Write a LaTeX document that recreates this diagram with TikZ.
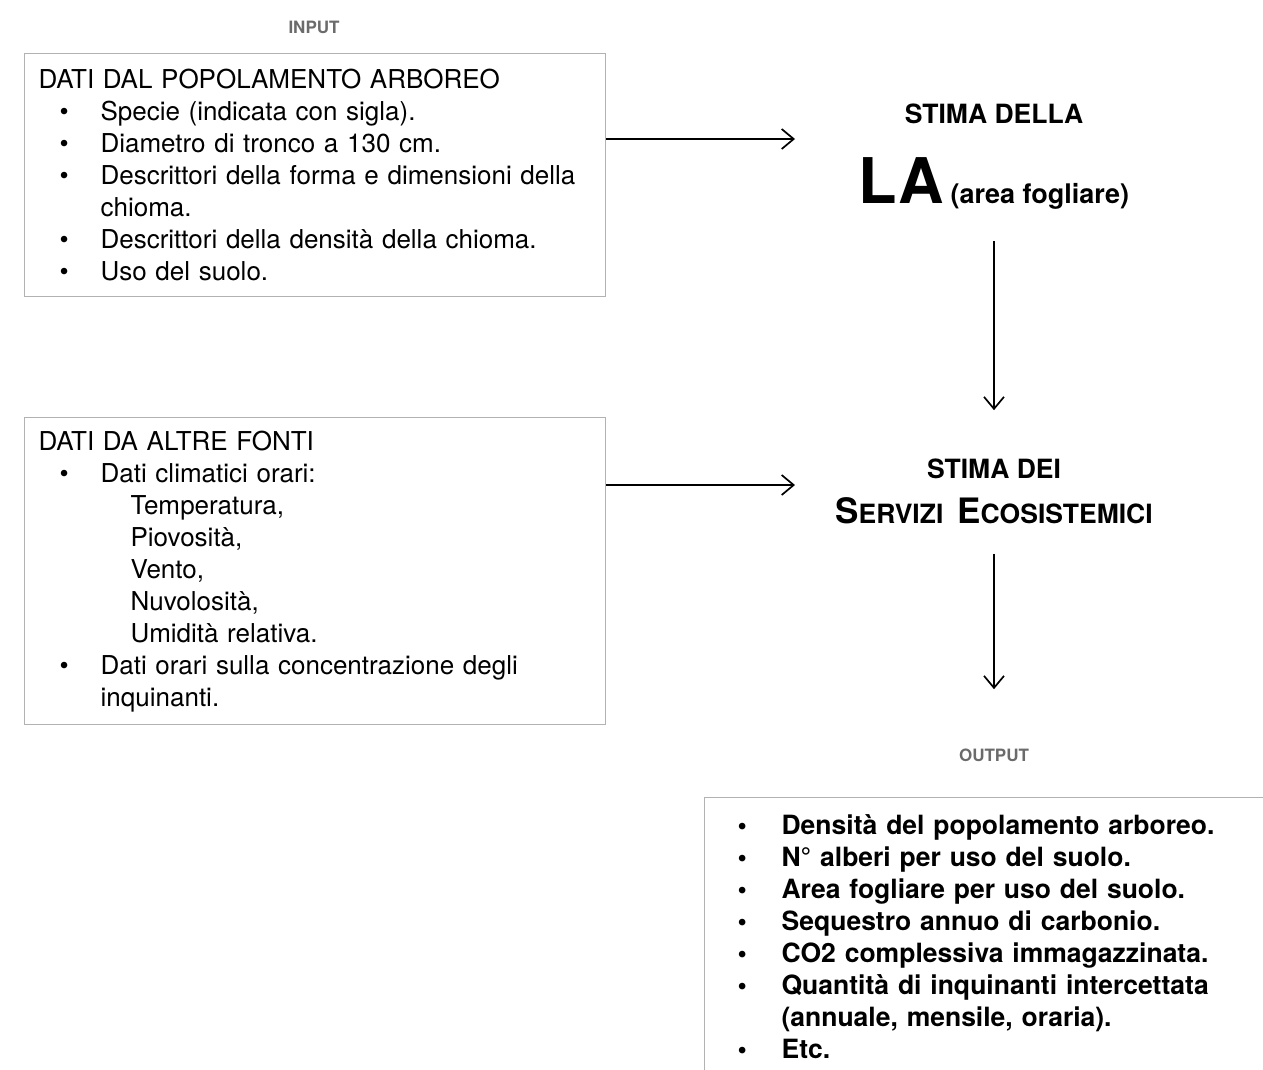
\documentclass[tikz,border=0pt]{standalone}
\usepackage{fontspec}
\setmainfont{TeX Gyre Heros}
\usetikzlibrary{arrows.meta,positioning}
\definecolor{boxgray}{gray}{0.70}
\definecolor{labelgray}{gray}{0.42}
% bullet line with hanging indent (text start given as argument)
\newcommand{\bulstart}[1]{\hangindent=#1\hangafter=1\noindent\hspace*{21pt}\makebox[\dimexpr#1-21pt\relax][l]{\textbullet}\ignorespaces}
\newcommand{\bul}[1][62pt]{\par\bulstart{#1}}
\newcommand{\subitm}{\par\noindent\hspace*{92pt}\ignorespaces}

\begin{document}
\begin{tikzpicture}[x=1pt, y=-1pt,
  databox/.style={rectangle, draw=boxgray, line width=1.2pt, text width=553pt, inner xsep=14pt, inner ysep=0pt, align=left, font={\fontsize{26}{32}\selectfont}},
  outbox/.style={rectangle, draw=boxgray, line width=1.2pt, anchor=north west, text width=560pt, inner xsep=12pt, inner ysep=8pt, text height=29pt, text depth=300pt, align=left, font={\bfseries\fontsize{26.5}{32}\selectfont}},
  tag/.style={font={\bfseries\fontsize{17}{17}\selectfont}, text=labelgray, inner sep=0pt, anchor=base},
  title/.style={font={\bfseries\fontsize{26.5}{26.5}\selectfont}, inner sep=0pt, anchor=base},
  arrow/.style={-{Straight Barb[length=12pt,width=20pt]}, line width=1.7pt, draw=black}
]
\path[use as bounding box] (0,0) rectangle (1263,1069);
\clip (0,0) rectangle (1263,1069);

\node[tag] (input) at (314,33) {INPUT};
\node[databox, anchor=north west, minimum height=243pt] (dati1) at (24,53) {DATI DAL POPOLAMENTO ARBOREO
  \bul Specie (indicata con sigla).
  \bul Diametro di tronco a 130 cm.
  \bul Descrittori della forma e dimensioni della\newline chioma.
  \bul Descrittori della densità della chioma.
  \bul Uso del suolo.\par};
\node[databox, below=120pt of dati1, minimum height=307pt] (dati2) {DATI DA ALTRE FONTI
  \bul Dati climatici orari:
  \subitm Temperatura,
  \subitm Piovosità,
  \subitm Vento,
  \subitm Nuvolosità,
  \subitm Umidità relativa.
  \bul Dati orari sulla concentrazione degli\newline inquinanti.\par};

\node[title] (la-title) at (994,123) {STIMA DELLA};
\node[inner sep=0pt, anchor=base, font=\bfseries] (la) at (994,203) {{\fontsize{63}{63}\selectfont LA}\hspace{7pt}{\fontsize{27}{27}\selectfont(area fogliare)}};
\node[title] (se-title) at (994,478) {STIMA DEI};
\node[inner sep=0pt, anchor=base, font=\bfseries] (se) at (994,523) {{\fontsize{35}{35}\selectfont S}{\fontsize{26.5}{26.5}\selectfont ERVIZI}\hspace{14pt}{\fontsize{35}{35}\selectfont E}{\fontsize{26.5}{26.5}\selectfont COSISTEMICI}};

\node[tag] (output) at (994,761) {OUTPUT};
\node[outbox] (risultati) at (704,797) {\bulstart{65pt}Densità del popolamento arboreo.
  \bul[65pt] N° alberi per uso del suolo.
  \bul[65pt] Area fogliare per uso del suolo.
  \bul[65pt] Sequestro annuo di carbonio.
  \bul[65pt] CO2 complessiva immagazzinata.
  \bul[65pt] Quantità di inquinanti intercettata\newline (annuale, mensile, oraria).
  \bul[65pt] Etc.\par};

\coordinate (in1) at (795,139);
\coordinate (in2) at (795,485);
\draw[arrow] (dati1.east |- in1) -- (in1);
\draw[arrow] (dati2.east |- in2) -- (in2);
\draw[arrow, shorten <=32pt, shorten >=48pt] (la.south) -- (la.south |- se-title.north);
\draw[arrow, shorten <=30pt, shorten >=59pt] (se.south) -- (se.south |- output.north);
\end{tikzpicture}
\end{document}
